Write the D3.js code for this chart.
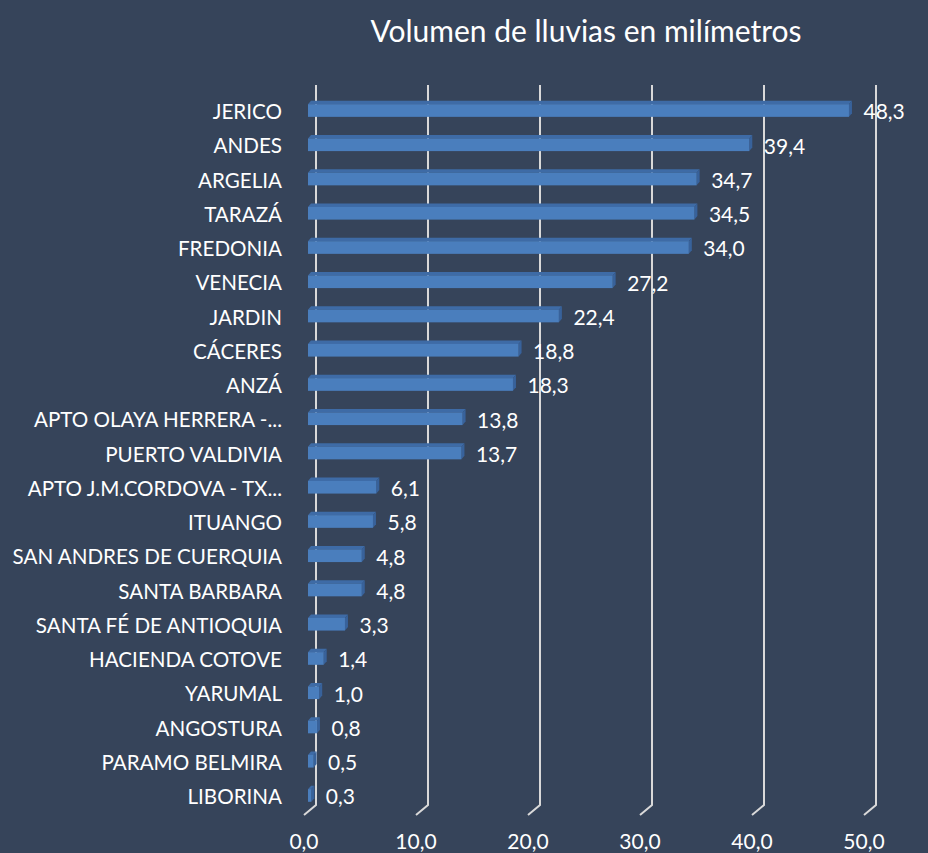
<!DOCTYPE html>
<html>
<head>
<meta charset="utf-8">
<script src="https://cdn.jsdelivr.net/npm/d3@7"></script>
<style>
  body { margin: 0; background: #36445a; }
  svg text { font-family: Lato, "Open Sans", sans-serif; fill: #ffffff; }
</style>
</head>
<body>
<div id="graphic"></div>
<script>
var title = "Volumen de lluvias en milímetros";

var categories = ["JERICO", "ANDES", "ARGELIA", "TARAZÁ", "FREDONIA", "VENECIA", "JARDIN",
  "CÁCERES", "ANZÁ", "APTO OLAYA HERRERA -...", "PUERTO VALDIVIA", "APTO J.M.CORDOVA - TX...",
  "ITUANGO", "SAN ANDRES DE CUERQUIA", "SANTA BARBARA", "SANTA FÉ DE ANTIOQUIA",
  "HACIENDA COTOVE", "YARUMAL", "ANGOSTURA", "PARAMO BELMIRA", "LIBORINA"];

var values = [48.3, 39.4, 34.7, 34.5, 34.0, 27.2, 22.4, 18.8, 18.3, 13.8, 13.7, 6.1,
  5.8, 4.8, 4.8, 3.3, 1.4, 1.0, 0.8, 0.5, 0.3];

var ticks = [0, 10, 20, 30, 40, 50];

var width = 928, height = 853;
var fmt = function(v) { return v.toFixed(1).replace(".", ","); };

var data = categories.map(function(c, i) { return {name: c, value: values[i]}; });

var svg = d3.select("#graphic").append("svg")
  .attr("width", width)
  .attr("height", height);

svg.append("rect")
  .attr("width", width).attr("height", height)
  .attr("fill", "#36445a");

// back wall scale, the floor front is shifted left/down
var x = d3.scaleLinear().domain([0, 50]).range([316, 876]);
var y = d3.scaleBand().domain(categories).range([94.9, 814.1]).padding(0);

var floorDx = -12, floorDy = 10;
var barDx = -8;          // bar front face offset from back wall
var depthX = 3, depthY = -3.5;
var barH = y.bandwidth() * 0.37;

// title
svg.append("text")
  .attr("x", 586).attr("y", 31)
  .attr("dy", "0.35em")
  .attr("text-anchor", "middle")
  .style("font-size", "30px")
  .text(title);

// gridlines (3D wall + floor)
svg.append("g").selectAll("path")
  .data(ticks)
  .enter().append("path")
    .attr("d", function(d) {
      var xb = x(d);
      return "M" + xb + ",85V805L" + (xb + floorDx) + "," + (805 + floorDy);
    })
    .attr("fill", "none")
    .attr("stroke", "#d9d9d9")
    .attr("stroke-width", 2);

// tick labels
svg.append("g").selectAll("text")
  .data(ticks)
  .enter().append("text")
    .attr("x", function(d) { return x(d) + floorDx; })
    .attr("y", 849)
    .attr("text-anchor", "middle")
    .style("font-size", "21px")
    .text(fmt);

// bars
var bars = svg.append("g").selectAll("g")
  .data(data)
  .enter().append("g");

function cy(d) { return y(d.name) + y.bandwidth() / 2 - 1.5; }
function x0() { return x(0) + barDx; }
function x1(d) { return x0() + x(d.value) - x(0); }

// top face
bars.append("path")
  .attr("d", function(d) {
    var t = cy(d) - barH / 2;
    return "M" + x0() + "," + t + "L" + (x0() + depthX) + "," + (t + depthY) +
      "L" + (x1(d) + depthX) + "," + (t + depthY) + "L" + x1(d) + "," + t + "Z";
  })
  .attr("fill", "#3e6ba6");

// side face
bars.append("path")
  .attr("d", function(d) {
    var t = cy(d) - barH / 2, b = cy(d) + barH / 2;
    return "M" + x1(d) + "," + t + "L" + (x1(d) + depthX) + "," + (t + depthY) +
      "L" + (x1(d) + depthX) + "," + (b + depthY) + "L" + x1(d) + "," + b + "Z";
  })
  .attr("fill", "#38629b");

// front face
bars.append("rect")
  .attr("x", x0())
  .attr("y", function(d) { return cy(d) - barH / 2; })
  .attr("width", function(d) { return x1(d) - x0(); })
  .attr("height", barH)
  .attr("fill", "#4a7ebd");

// value labels
bars.append("text")
  .attr("x", function(d) { return x1(d) + 14.5; })
  .attr("y", function(d) { return y(d.name) + y.bandwidth() / 2; })
  .attr("dy", "0.35em")
  .style("font-size", "21px")
  .text(function(d) { return fmt(d.value); });

// category labels
svg.append("g").selectAll("text")
  .data(data)
  .enter().append("text")
    .attr("x", 282)
    .attr("y", function(d) { return y(d.name) + y.bandwidth() / 2; })
    .attr("dy", "0.35em")
    .attr("text-anchor", "end")
    .style("font-size", "20.6px")
    .text(function(d) { return d.name; });
</script>
</body>
</html>
